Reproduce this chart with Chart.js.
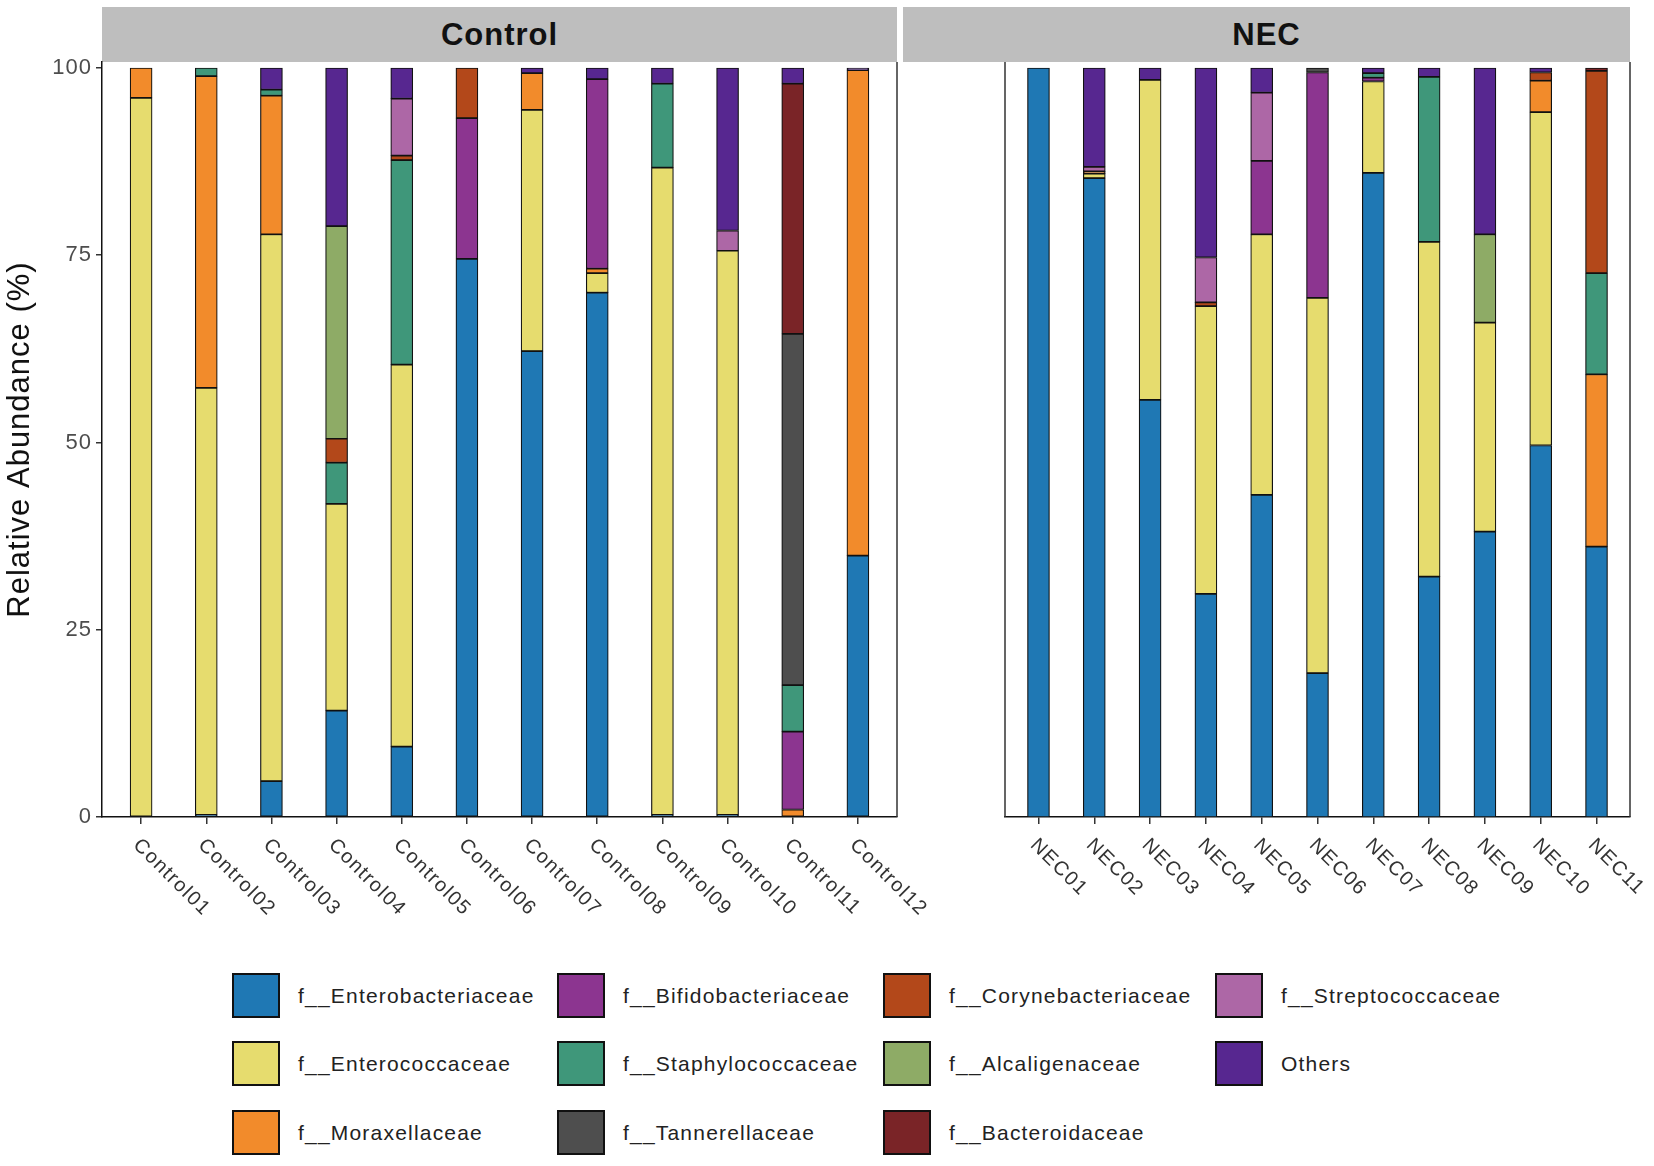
<!DOCTYPE html>
<html>
<head>
<meta charset="utf-8">
<script src="https://cdn.jsdelivr.net/npm/chart.js@4.4.1/dist/chart.umd.min.js"></script>
<style>
  body { margin: 0; background: #fff; font-family: "Liberation Sans", Arial, sans-serif; }
  #page { position: relative; width: 1654px; height: 1166px; overflow: hidden; background: #fff; }
  canvas { position: absolute; top: 0; }
  .strip { position: absolute; top: 7px; height: 55px; background: #bebebe; color: #111;
           font-weight: bold; font-size: 31px; letter-spacing: 1px;
           display: flex; align-items: center; justify-content: center; }
  .key { position: absolute; width: 48px; height: 45px; box-sizing: border-box; border: 2px solid #111; }
  .lab { position: absolute; height: 45px; line-height: 45px; font-size: 21px; letter-spacing: 1.2px; color: #222; white-space: nowrap; }
</style>
</head>
<body>
<div id="page">
  <div class="strip" style="left:102px;width:795px">Control</div>
  <div class="strip" style="left:903px;width:727px">NEC</div>
  <canvas id="ctrl" width="1000" height="960" style="left:0;width:1000px;height:960px"></canvas>
  <canvas id="nec" width="754" height="960" style="left:900px;width:754px;height:960px"></canvas>
  <div id="legend"></div>
</div>
<script>
const controlSamples = ['Control01','Control02','Control03','Control04','Control05','Control06',
                        'Control07','Control08','Control09','Control10','Control11','Control12'];
const necSamples = ['NEC01','NEC02','NEC03','NEC04','NEC05','NEC06','NEC07','NEC08','NEC09','NEC10','NEC11'];

const families = ['f__Enterobacteriaceae','f__Enterococcaceae','f__Moraxellaceae','f__Bifidobacteriaceae',
                  'f__Staphylococcaceae','f__Tannerellaceae','f__Corynebacteriaceae','f__Alcaligenaceae',
                  'f__Bacteroidaceae','f__Streptococcaceae','Others'];
const colors = ['#1f78b4','#e6dc6e','#f28b2b','#8c3590','#3f977a','#4e4e4e',
                '#b3481a','#8eab66','#7a2427','#ad67a6','#572790'];

// values per sample: Control01..Control12, then NEC01..NEC11
const enterobacteriaceae = [0,0.3,4.8,14.2,9.4,74.5,62.2,70,0.3,0.3,0,34.9, 100,85.3,55.7,29.8,43,19.2,86,32.1,38.1,49.6,36.1];
const enterococcaceae    = [96,57,73,27.6,51,0,32.2,2.6,86.4,75.3,0,0, 0,0.6,42.7,38.4,34.8,50.1,12.2,44.7,27.9,44.5,0];
const moraxellaceae      = [4,41.6,18.5,0,0,0,4.9,0.6,0,0,1.0,64.8, 0,0.3,0,0,0,0,0,0,0,4.2,23.0];
const bifidobacteriaceae = [0,0,0,0,0,18.8,0,25.3,0,0,10.4,0, 0,0,0,0,9.8,30.1,0.5,0,0,0,0];
const staphylococcaceae  = [0,1.1,0.8,5.5,27.3,0,0,0,11.2,0,6.2,0, 0,0,0,0,0,0,0.6,22.0,0,0,13.5];
const tannerellaceae     = [0,0,0,0,0,0,0,0,0,0,46.9,0, 0,0,0,0,0,0.6,0,0,0,0,0];
const corynebacteriaceae = [0,0,0,3.2,0.6,6.7,0,0,0,0,0,0, 0,0,0,0.5,0,0,0,0,0,1.1,27.0];
const alcaligenaceae     = [0,0,0,28.4,0,0,0,0,0,0,0,0, 0,0,0,0,0,0,0,0,11.8,0,0];
const bacteroidaceae     = [0,0,0,0,0,0,0,0,0,0,33.4,0, 0,0,0,0,0,0,0,0,0,0,0.4];
const streptococcaceae   = [0,0,0,0,7.6,0,0,0,0,2.7,0,0, 0,0.6,0,6.0,9.1,0,0,0,0,0,0];
const others             = [0,0,2.9,21.1,4.1,0,0.7,1.5,2.1,21.7,2.1,0.3, 0,13.2,1.6,25.3,3.3,0,0.7,1.2,22.2,0.6,0];

const yTicks = [0, 25, 50, 75, 100];

const series = [enterobacteriaceae, enterococcaceae, moraxellaceae, bifidobacteriaceae,
                staphylococcaceae, tannerellaceae, corynebacteriaceae, alcaligenaceae,
                bacteroidaceae, streptococcaceae, others];

function buildDatasets(from, to) {
  return families.map((name, k) => ({
    label: name,
    data: series[k].slice(from, to).map((v, i) => ({ x: i, y: v > 0 ? v : null })),
    backgroundColor: colors[k],
    borderColor: '#111',
    borderWidth: 1.2,
    borderSkipped: false,
    barThickness: 22
  }));
}

// panel frame lines + rotated sample names
const panelPlugin = {
  id: 'panel',
  beforeDraw(chart) {
    chart.ctx.letterSpacing = '1px';
  },
  afterDraw(chart, args, opts) {
    const { ctx, chartArea: a } = chart;
    const xs = chart.scales.x;
    ctx.save();
    ctx.strokeStyle = '#333';
    ctx.lineWidth = 1.5;
    ctx.beginPath();
    ctx.moveTo(a.right, a.top); ctx.lineTo(a.right, a.bottom);
    if (opts.leftLine) { ctx.moveTo(a.left, a.top); ctx.lineTo(a.left, a.bottom); }
    ctx.stroke();

    ctx.font = '20px "Liberation Sans", Arial, sans-serif';
    ctx.letterSpacing = '1.5px';
    ctx.fillStyle = '#333';
    ctx.textAlign = 'left';
    ctx.textBaseline = 'middle';
    chart.data.labels.forEach((lab, i) => {
      const px = xs.getPixelForValue(i);
      ctx.save();
      ctx.translate(px - 5, a.bottom + 25);
      ctx.rotate(Math.PI / 4);
      ctx.fillText(lab, 0, 0);
      ctx.restore();
    });
    ctx.restore();
  }
};

function makeChart(id, labels, from, to, isLeft) {
  return new Chart(document.getElementById(id), {
    type: 'bar',
    data: { labels: labels, datasets: buildDatasets(from, to) },
    options: {
      responsive: false,
      animation: false,
      layout: { padding: isLeft ? { top: 62, right: 103, left: 0, bottom: 0 }
                                : { top: 62, right: 24, left: 3, bottom: 0 } },
      plugins: {
        legend: { display: false },
        tooltip: { enabled: false },
        panel: { leftLine: !isLeft }
      },
      scales: {
        x: {
          type: 'linear',
          min: -0.6,
          max: labels.length - 0.4,
          offset: false,
          stacked: true,
          afterBuildTicks: s => { s.ticks = labels.map((_, i) => ({ value: i })); },
          ticks: { display: false },
          grid: { offset: false, drawOnChartArea: false, drawTicks: true, tickLength: 7, color: '#333', lineWidth: 1.5 },
          border: { display: true, color: '#111', width: 1.5 },
          afterFit: s => { s.height = 143; }
        },
        y: {
          display: isLeft,
          min: 0,
          max: 100.8,
          stacked: true,
          afterBuildTicks: s => { s.ticks = yTicks.map(v => ({ value: v })); },
          ticks: { color: '#4d4d4d', font: { size: 22, family: 'Liberation Sans' }, padding: 4 },
          grid: { drawOnChartArea: false, drawTicks: true, tickLength: 6, color: '#333', lineWidth: 1.5 },
          border: { display: true, color: '#111', width: 1.5 },
          title: {
            display: true,
            text: 'Relative Abundance (%)',
            color: '#111',
            font: { size: 31, family: 'Liberation Sans' },
            padding: { top: 2, bottom: 0 }
          },
          afterFit: s => { s.width = 102; }
        }
      }
    },
    plugins: [panelPlugin]
  });
}

makeChart('ctrl', controlSamples, 0, controlSamples.length, true);
makeChart('nec', necSamples, controlSamples.length, controlSamples.length + necSamples.length, false);

// legend: 3 rows, filled column by column
const legendCols = [232, 557, 883, 1215];
const legendRows = [973, 1041, 1110];
const legend = document.getElementById('legend');
families.forEach((name, k) => {
  const left = legendCols[Math.floor(k / 3)];
  const top = legendRows[k % 3];
  const key = document.createElement('div');
  key.className = 'key';
  key.style.left = left + 'px';
  key.style.top = top + 'px';
  key.style.background = colors[k];
  const lab = document.createElement('div');
  lab.className = 'lab';
  lab.style.left = (left + 66) + 'px';
  lab.style.top = top + 'px';
  lab.textContent = name;
  legend.appendChild(key);
  legend.appendChild(lab);
});
</script>
</body>
</html>
